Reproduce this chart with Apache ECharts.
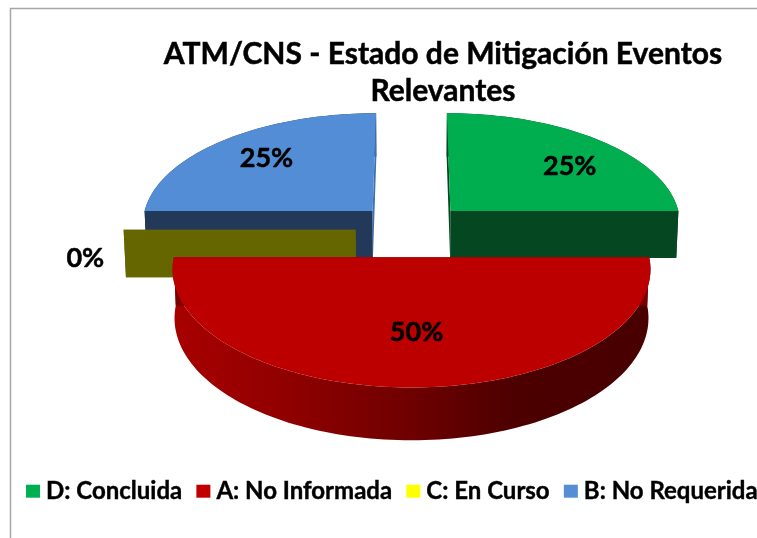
<!DOCTYPE html>
<html><head><meta charset="utf-8">
<style>html,body{margin:0;padding:0;background:#fff;overflow:hidden}#c{width:757px;height:538px}</style>
<script src="https://cdn.jsdelivr.net/npm/echarts@6/dist/echarts.min.js"></script>
</head><body><div id="c"></div>
<script>
var titleText = 'ATM/CNS - Estado de Mitigación Eventos\nRelevantes';
var categories = ['D: Concluida', 'A: No Informada', 'C: En Curso', 'B: No Requerida'];
var values = [25, 50, 0, 25];
var legendColors = ['#00b050', '#c00000', '#ffff00', '#558ed5'];
var topColors = ['#00ae50', '#bc0000', '#666600', '#538dd5'];
var frontWallColors = ['#054721', '#7a0000', '#666600', '#22395a'];
var sideWallColors = ['#054721', '#7a0000', '#666600', '#3f72ad'];
var drawOrder = [30, 40, 35, 20];
var labelSpots = [[0.553, -0.43], [0.02, 0.604], [-1.13, 0.25], [-0.498, -0.52]];

var FONT = 'Lato,"Liberation Sans",sans-serif';
var cam = {cx: 411.5, yh: -875, Ht: 1086, Hb: 1142, a: 0.008, R: 228, Rd: 0.099, explode: 55, centerD: 0.01689};

function proj(X, D, h) {
  var s = 1 / (1 - D + cam.a * h);
  return [cam.cx + X * s, cam.yh + (h ? cam.Hb : cam.Ht) * s];
}
var total = values.reduce(function (a, b) { return a + b; }, 0);
var starts = [], cum = 0;
values.forEach(function (v) { starts.push(cum / total * 2 * Math.PI); cum += v; });

function sliceGeometry(i) {
  var a0 = starts[i], a1 = a0 + values[i] / total * 2 * Math.PI, mid = (a0 + a1) / 2;
  var ax = cam.explode * Math.sin(mid);
  var ad = cam.centerD - cam.explode / cam.R * cam.Rd * Math.cos(mid);
  function rim(t, h) { return proj(ax + cam.R * Math.sin(t), ad - cam.Rd * Math.cos(t), h); }
  function apex(h) { return proj(ax, ad, h); }
  var n = Math.max(1, Math.round((a1 - a0) / (Math.PI / 120)));
  var topArc = [], botArc = [];
  for (var k = 0; k <= n; k++) {
    var t = a0 + (a1 - a0) * k / n;
    topArc.push(rim(t, 0)); botArc.push(rim(t, 1));
  }
  return {a0: a0, a1: a1, ax: ax, ad: ad, rim: rim, apex: apex, topArc: topArc, botArc: botArc};
}
function poly(points, fill, z2) {
  return {type: 'polygon', shape: {points: points}, style: {fill: fill, stroke: null}, z2: z2};
}
function makeRender(i) {
  return function () {
    var g = sliceGeometry(i), kids = [];
    var startWall = [g.apex(0), g.rim(g.a0, 0), g.rim(g.a0, 1), g.apex(1)];
    var endWall = [g.apex(0), g.rim(g.a1, 0), g.rim(g.a1, 1), g.apex(1)];
    var arcFill = frontWallColors[i];
    if (i === 1) {
      arcFill = {type: 'linear', x: 0, y: 0, x2: 1, y2: 0, colorStops: [
        {offset: 0, color: '#a80000'}, {offset: 0.25, color: '#8f0000'},
        {offset: 0.5, color: '#6e0000'}, {offset: 0.72, color: '#4c0000'}, {offset: 1, color: '#480000'}]};
    }
    kids.push(poly(g.topArc.concat(g.botArc.slice().reverse()), arcFill, 1));
    var startFront = Math.abs(Math.sin(g.a0) + 1) < 1e-6;
    kids.push(poly(startWall, startFront ? frontWallColors[i] : sideWallColors[i], 2));
    kids.push(poly(endWall, Math.abs(Math.sin(g.a1) - 1) < 1e-6 ? frontWallColors[i] : sideWallColors[i], 2));
    if (values[i] > 0) kids.push(poly([g.apex(0)].concat(g.topArc), topColors[i], 3));
    var sp = labelSpots[i], p = proj(g.ax + sp[0] * cam.R, g.ad + sp[1] * cam.Rd, 0);
    kids.push({type: 'text', z2: 10, style: {
      x: p[0], y: p[1], text: Math.round(values[i] / total * 100) + '%',
      fill: '#000', stroke: '#000', lineWidth: 0.5, font: 'bold 27px ' + FONT, textAlign: 'center', textVerticalAlign: 'middle'}});
    return {type: 'group', children: kids};
  };
}
var series = categories.map(function (name, i) {
  return {type: 'custom', name: name, coordinateSystem: 'none', z: drawOrder[i], silent: true,
    itemStyle: {color: legendColors[i]}, data: [[values[i]]], renderItem: makeRender(i), animation: false};
});
var chart = echarts.init(document.getElementById('c'), null, {renderer: 'canvas'});
chart.setOption({
  animation: false, backgroundColor: '#fff',
  title: {text: titleText, left: 438, top: 31, textAlign: 'center',
    textStyle: {fontFamily: FONT, fontWeight: 'bold', fontSize: 30, lineHeight: 37, color: '#000', textBorderColor: '#000', textBorderWidth: 0.5}},
  legend: {left: 26, top: 479, width: 1200, padding: 0, itemWidth: 14, itemHeight: 13, icon: 'rect', itemGap: 14,
    selectedMode: false, textStyle: {fontFamily: FONT, fontWeight: 'bold', fontSize: 24, color: '#000', padding: [0, 0, 0, 1], textBorderColor: '#000', textBorderWidth: 0.4},
    data: categories},
  graphic: [
    {type: 'polyline', silent: true, z: 1, shape: {points: [[10.5, 538], [10.5, 8.5], [757, 8.5]]}, style: {stroke: '#a6a6a6', lineWidth: 1.5, fill: null}}
  ],
  series: series
});
</script></body></html>
